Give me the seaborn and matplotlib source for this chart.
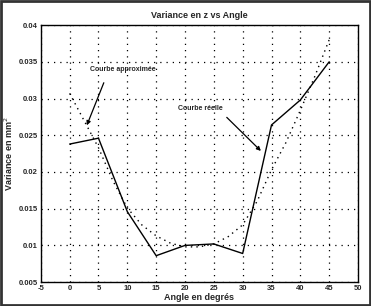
import pandas as pd
import matplotlib.pyplot as plt
import matplotlib.patches as mpatches
import seaborn as sns

# measured curve
angles = [0, 5, 10, 15, 20, 25, 30, 35, 40, 45]
variance_real = [0.0238, 0.0246, 0.0146, 0.0086, 0.0100, 0.0102, 0.0089, 0.0264, 0.0298, 0.0350]

# fitted curve
angles_fit = [0, 2.5, 5, 7.5, 10, 12.5, 15, 17.5, 20, 22.5, 25, 27.5, 30, 32.5, 35, 37.5, 40, 42.5, 45]
variance_fit = [0.0307, 0.0270, 0.0233, 0.0188, 0.0151, 0.0128, 0.0113, 0.0103, 0.0098, 0.0098,
                0.0102, 0.0112, 0.0128, 0.0160, 0.0203, 0.0240, 0.0284, 0.0330, 0.0380]

xticks = [-5, 0, 5, 10, 15, 20, 25, 30, 35, 40, 45, 50]
yticks = [0.005, 0.01, 0.015, 0.02, 0.025, 0.03, 0.035, 0.04]

sns.set_style("white")
plt.rcParams['font.family'] = ['Liberation Sans', 'DejaVu Sans']

real_df = pd.DataFrame({"angle": angles, "variance": variance_real})
fit_df = pd.DataFrame({"angle": angles_fit, "variance": variance_fit})

fig = plt.figure(figsize=(3.71, 3.06), dpi=100)
ax = fig.add_axes([0.11, 0.078, 0.855, 0.84])

sns.lineplot(data=real_df, x="angle", y="variance", ax=ax, color="black", linewidth=1.0)
sns.lineplot(data=fit_df, x="angle", y="variance", ax=ax, color="black", linewidth=1.0,
             linestyle=(0, (1, 3)))

ax.set_xlim(-5, 50)
ax.set_ylim(0.005, 0.04)
ax.set_xticks(xticks)
ax.set_yticks(yticks)
ax.set_xticklabels([str(t) for t in xticks], fontsize=5.5, fontweight="bold")
ax.set_yticklabels([f"{t:g}" for t in yticks], fontsize=5.5, fontweight="bold")
ax.tick_params(direction="in", length=3, width=0.8, pad=2)
ax.grid(True, color="black", linestyle=(0, (1, 4)), linewidth=0.9)
for s in ax.spines.values():
    s.set_linewidth(1.0)
    s.set_color("black")

ax.set_title("Variance en z vs Angle", fontsize=6.5, fontweight="bold", pad=5)
ax.set_xlabel("Angle en degrés", fontsize=6.5, fontweight="bold", labelpad=1)
ax.set_ylabel("Variance en mm$^2$", fontsize=6.5, fontweight="bold", labelpad=3)

ax.text(9.2, 0.0339, "Courbe approximée", fontsize=5, fontweight="bold", ha="center", va="center")
ax.annotate("", xy=(2.8, 0.026), xytext=(6.1, 0.0325),
            arrowprops=dict(arrowstyle="-|>", color="black", lw=0.9, mutation_scale=6))
ax.text(22.6, 0.0287, "Courbe réelle", fontsize=5, fontweight="bold", ha="center", va="center")
ax.annotate("", xy=(33.5, 0.0226), xytext=(26.9, 0.0277),
            arrowprops=dict(arrowstyle="-|>", color="black", lw=0.9, mutation_scale=6))

# scanned page frame
fig.patches.append(mpatches.Rectangle((0.004, 0.004), 0.992, 0.992, transform=fig.transFigure,
                                      fill=False, edgecolor="#333333", linewidth=2))

fig.savefig("out.png", dpi=100)
